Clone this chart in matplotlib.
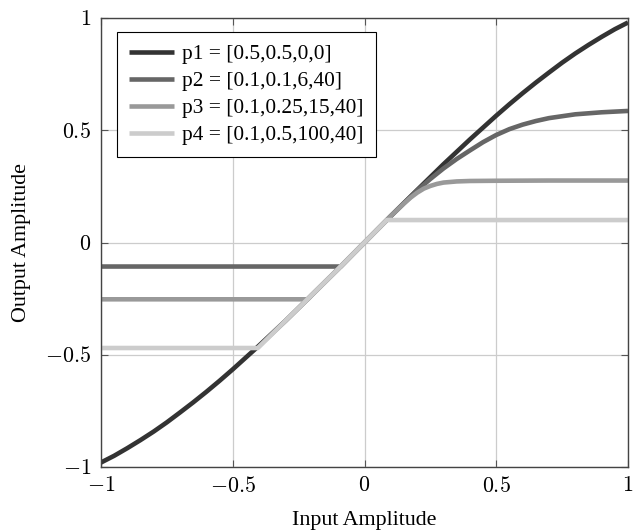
import matplotlib
matplotlib.use("Agg")
import matplotlib.pyplot as plt

plt.rcParams['mathtext.fontset'] = 'cm'
plt.rcParams['font.family'] = ['Liberation Serif', 'DejaVu Serif']

# ---- data ----
p1_x = [-1.0, -0.95, -0.9, -0.85, -0.8, -0.75, -0.7, -0.65, -0.6, -0.55, -0.5, -0.4, -0.3,
        -0.2, -0.1, 0.0, 0.1, 0.2, 0.3, 0.4, 0.5, 0.55, 0.6, 0.65, 0.7, 0.75, 0.8, 0.85,
        0.9, 0.95, 1.0]
p1_y = [-0.98, -0.95, -0.916, -0.88, -0.842, -0.801, -0.757, -0.712, -0.665, -0.616, -0.565,
        -0.459, -0.349, -0.234, -0.118, 0.0, 0.118, 0.234, 0.349, 0.459, 0.565, 0.616, 0.665,
        0.712, 0.757, 0.801, 0.842, 0.88, 0.916, 0.95, 0.98]

p2_x = [-1.0, -0.09, -0.05, 0.0, 0.05, 0.1, 0.15, 0.2, 0.25, 0.3, 0.35, 0.4, 0.45, 0.5,
        0.55, 0.6, 0.65, 0.7, 0.8, 0.9, 1.0]
p2_y = [-0.107, -0.107, -0.059, 0.0, 0.059, 0.118, 0.176, 0.232, 0.283, 0.33, 0.372, 0.41,
        0.447, 0.479, 0.505, 0.525, 0.541, 0.554, 0.571, 0.58, 0.586]

p3_x = [-1.0, -0.215, -0.2, -0.1, 0.0, 0.1, 0.15, 0.175, 0.2, 0.225, 0.25, 0.275, 0.3,
        0.35, 0.4, 0.5, 0.7, 1.0]
p3_y = [-0.253, -0.253, -0.234, -0.118, 0.0, 0.118, 0.174, 0.2, 0.222, 0.24, 0.252, 0.261,
        0.267, 0.272, 0.274, 0.275, 0.276, 0.276]

p4_x = [-1.0, -0.405, -0.3, -0.2, -0.1, 0.0, 0.085, 1.0]
p4_y = [-0.47, -0.47, -0.349, -0.234, -0.118, 0.0, 0.1, 0.1]

labels = ['p1 = [0.5,0.5,0,0]', 'p2 = [0.1,0.1,6,40]',
          'p3 = [0.1,0.25,15,40]', 'p4 = [0.1,0.5,100,40]']
colors = ['#333333', '#666666', '#999999', '#cccccc']

tick_vals = [-1, -0.5, 0, 0.5, 1]
tick_labels = ['$-1$', '$-0.5$', '$0$', '$0.5$', '$1$']

FS = 15.8
LFS = 15.4

fig = plt.figure(figsize=(6.34, 5.31), dpi=100)
ax = fig.add_axes([101/634, 1-467/531, 527/634, 449/531])

series = [(p1_x, p1_y), (p2_x, p2_y), (p3_x, p3_y), (p4_x, p4_y)]
for (xs, ys), lab, c in zip(series, labels, colors):
    ax.plot(xs, ys, color=c, lw=3.3, label=lab, solid_capstyle='butt', solid_joinstyle='round')

ax.set_xlim(-1, 1)
ax.set_ylim(-1, 1)
ax.set_xticks(tick_vals)
ax.set_xticklabels(tick_labels)
ax.set_yticks(tick_vals)
ax.set_yticklabels(tick_labels)
ax.tick_params(direction='in', length=5, width=0.8, color='#555555', labelsize=FS,
               top=True, right=True, pad=7)
ax.grid(True, color='#cccccc', lw=0.9)
ax.set_axisbelow(True)
for s in ax.spines.values():
    s.set_color('#444444')
    s.set_linewidth(1.0)

ax.set_xlabel('Input Amplitude', fontsize=FS, labelpad=10)
ax.set_ylabel('Output Amplitude', fontsize=FS, labelpad=10)

leg = ax.legend(loc='upper left', bbox_to_anchor=(16/527, 1-14/449), borderaxespad=0,
                fontsize=LFS, frameon=True, fancybox=False, edgecolor='black',
                framealpha=1, handlelength=2.1, handletextpad=0.38, labelspacing=0.33,
                borderpad=0.57)
leg.get_frame().set_linewidth(0.8)

fig.savefig('out.png', dpi=100)
